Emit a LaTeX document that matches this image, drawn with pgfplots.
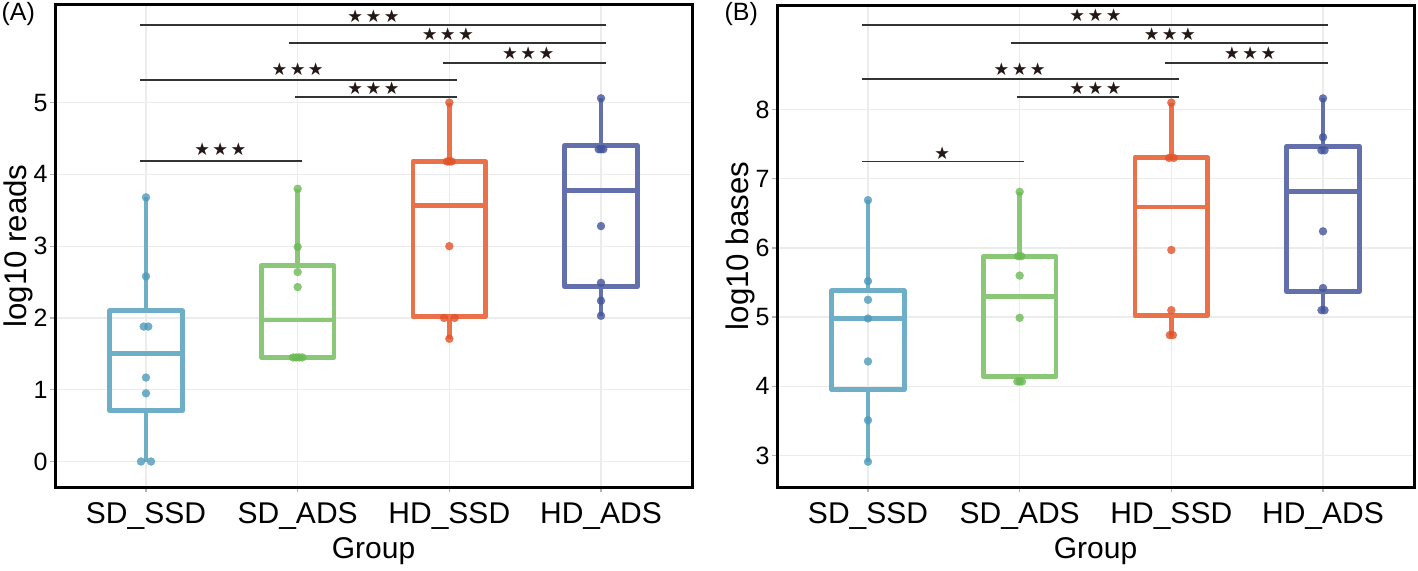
\documentclass[border=0pt]{standalone}
\usepackage{fontspec}
\setmainfont{Liberation Sans}
\newfontfamily\starfont{DejaVu Sans}
\usepackage{pgfplots}
\pgfplotsset{compat=1.18}
\usepgfplotslibrary{statistics}

% box outline colours and (slightly darker) point colours
\definecolor{lA}{HTML}{6FAEC7}
\definecolor{pA}{HTML}{4E9BBB}
\definecolor{lB}{HTML}{8AC878}
\definecolor{pB}{HTML}{6BBA55}
\definecolor{lC}{HTML}{EA7148}
\definecolor{pC}{HTML}{E3532A}
\definecolor{lD}{HTML}{6370AC}
\definecolor{pD}{HTML}{44559C}
\definecolor{starcol}{HTML}{231815}

\newcommand{\threestars}{{\starfont ★\hspace{1pt}★\hspace{1pt}★}}
\newcommand{\onestar}{{\starfont ★}}

\tikzset{
  sig/.style={draw=black!80, line width=0.7pt},
  st/.style={text=starcol, inner sep=0pt, font=\fontsize{7}{8}\selectfont},
}

\pgfplotsset{
  panel/.style={
    scale only axis, width=254.8pt, height=192.8pt, anchor=south west,
    xmin=-0.6, xmax=3.6, xtick={0,1,2,3},
    xticklabels={SD\_SSD,SD\_ADS,HD\_SSD,HD\_ADS},
    grid=major, major grid style={draw=gray!15, line width=0.5pt},
    axis line style={black, line width=1.2pt},
    tick pos=left, tick align=outside, major tick length=2pt,
    tick style={draw=gray!60, line width=0.5pt},
    /pgf/number format/assume math mode=true,
    yticklabel style={font=\fontsize{10}{11}\selectfont, xshift=2.5pt},
    xticklabel style={font=\fontsize{12}{13}\selectfont, anchor=base, yshift=-12.5pt},
    xlabel={Group},
    xlabel style={font=\fontsize{12}{13}\selectfont, at={(axis description cs:0.5,0)}, anchor=base, yshift=-28.5pt},
    ylabel style={font=\fontsize{12.5}{14}\selectfont, at={(axis description cs:-0.045,0.5)}, anchor=base},
  },
  bx/.style={draw=#1, line width=1.9pt, line join=round, solid,
    boxplot/draw direction=y, boxplot/box extend=0.48, boxplot/whisker extend=0},
  pts/.style={only marks, mark=*, mark size=1.6pt,
    mark options={draw=#1, fill=#1, fill opacity=0.8, draw opacity=0.8, line width=0.1pt}},
}

\begin{document}
\begin{tikzpicture}
\path[use as bounding box] (0,0) rectangle (567.2pt,228pt);
\node[anchor=north west, inner sep=0pt, font=\fontsize{10}{12}\selectfont] at (0.4pt,227.2pt) {(A)};
\node[anchor=north west, inner sep=0pt, font=\fontsize{10}{12}\selectfont] at (289.6pt,227.2pt) {(B)};

% ---------------- panel A ----------------
\begin{axis}[panel, at={(22pt,33.2pt)}, ymin=-0.355, ymax=6.36, ytick={0,1,2,3,4,5},
  ylabel={log10 reads}]
\addplot[bx=lA, boxplot prepared={draw position=0, lower whisker=0, lower quartile=0.71,
  median=1.50, upper quartile=2.10, upper whisker=3.68}] coordinates {};
\addplot[bx=lB, boxplot prepared={draw position=1, lower whisker=1.45, lower quartile=1.45,
  median=1.97, upper quartile=2.73, upper whisker=3.80}] coordinates {};
\addplot[bx=lC, boxplot prepared={draw position=2, lower whisker=1.71, lower quartile=2.02,
  median=3.57, upper quartile=4.18, upper whisker=5.00}] coordinates {};
\addplot[bx=lD, boxplot prepared={draw position=3, lower whisker=2.03, lower quartile=2.44,
  median=3.78, upper quartile=4.40, upper whisker=5.06}] coordinates {};

\addplot[pts=pA] coordinates {(0,3.68)(0,2.58)(-0.015,1.88)(0.015,1.88)(0,1.17)(0,0.95)(-0.033,0)(0.033,0)};
\addplot[pts=pB] coordinates {(1,3.80)(1,2.99)(1,2.64)(1,2.43)(0.97,1.45)(0.99,1.45)(1.01,1.45)(1.03,1.45)};
\addplot[pts=pC] coordinates {(2,5.00)(1.985,4.18)(2,4.18)(2.015,4.18)(2,3.00)(1.965,2.00)(2.035,2.00)(2,1.71)};
\addplot[pts=pD] coordinates {(3,5.06)(2.985,4.35)(3,4.35)(3.015,4.35)(3,3.28)(3,2.49)(3,2.24)(3,2.03)};

\draw[sig] (axis cs:-0.04,6.08) -- (axis cs:3.03,6.08);
\node[st] at (axis cs:1.50,6.21) {\threestars};
\draw[sig] (axis cs:0.94,5.83) -- (axis cs:3.03,5.83);
\node[st] at (axis cs:1.99,5.95) {\threestars};
\draw[sig] (axis cs:1.96,5.55) -- (axis cs:3.03,5.55);
\node[st] at (axis cs:2.52,5.69) {\threestars};
\draw[sig] (axis cs:-0.04,5.32) -- (axis cs:2.05,5.32);
\node[st] at (axis cs:1.00,5.46) {\threestars};
\draw[sig] (axis cs:0.98,5.08) -- (axis cs:2.05,5.08);
\node[st] at (axis cs:1.50,5.20) {\threestars};
\draw[sig] (axis cs:-0.04,4.19) -- (axis cs:1.03,4.19);
\node[st] at (axis cs:0.49,4.35) {\threestars};
\end{axis}

% ---------------- panel B ----------------
\begin{axis}[panel, at={(310.8pt,33.2pt)}, ymin=2.545, ymax=9.51, ytick={3,4,5,6,7,8},
  ylabel={log10 bases}]
\addplot[bx=lA, boxplot prepared={draw position=0, lower whisker=2.91, lower quartile=3.95,
  median=4.98, upper quartile=5.38, upper whisker=6.69}] coordinates {};
\addplot[bx=lB, boxplot prepared={draw position=1, lower whisker=4.07, lower quartile=4.14,
  median=5.30, upper quartile=5.88, upper whisker=6.81}] coordinates {};
\addplot[bx=lC, boxplot prepared={draw position=2, lower whisker=4.74, lower quartile=5.02,
  median=6.59, upper quartile=7.31, upper whisker=8.10}] coordinates {};
\addplot[bx=lD, boxplot prepared={draw position=3, lower whisker=5.10, lower quartile=5.37,
  median=6.82, upper quartile=7.47, upper whisker=8.16}] coordinates {};

\addplot[pts=pA] coordinates {(0,6.69)(0,5.52)(0,5.25)(0,4.98)(0,4.36)(0,3.51)(0,2.91)};
\addplot[pts=pB] coordinates {(1,6.81)(0.99,5.88)(1.01,5.88)(1,5.60)(1,4.99)(0.985,4.07)(1,4.07)(1.015,4.07)};
\addplot[pts=pC] coordinates {(2,8.10)(1.985,7.30)(2.015,7.30)(2,5.97)(2,5.10)(1.99,4.74)(2.01,4.74)};
\addplot[pts=pD] coordinates {(3,8.16)(3,7.60)(2.99,7.41)(3.01,7.41)(3,6.24)(3,5.42)(2.99,5.10)(3.01,5.10)};

\draw[sig] (axis cs:-0.04,9.22) -- (axis cs:3.03,9.22);
\node[st] at (axis cs:1.50,9.36) {\threestars};
\draw[sig] (axis cs:0.94,8.96) -- (axis cs:3.03,8.96);
\node[st] at (axis cs:1.99,9.09) {\threestars};
\draw[sig] (axis cs:1.96,8.67) -- (axis cs:3.03,8.67);
\node[st] at (axis cs:2.52,8.81) {\threestars};
\draw[sig] (axis cs:-0.04,8.44) -- (axis cs:2.05,8.44);
\node[st] at (axis cs:1.00,8.58) {\threestars};
\draw[sig] (axis cs:0.98,8.18) -- (axis cs:2.05,8.18);
\node[st] at (axis cs:1.50,8.31) {\threestars};
\draw[sig] (axis cs:-0.04,7.25) -- (axis cs:1.03,7.25);
\node[st] at (axis cs:0.49,7.37) {\onestar};
\end{axis}
\end{tikzpicture}
\end{document}
